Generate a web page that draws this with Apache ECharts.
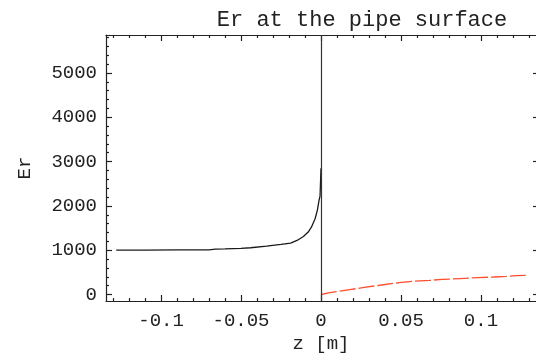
<!DOCTYPE html>
<html>
<head>
<meta charset="utf-8">
<script src="https://cdn.jsdelivr.net/npm/echarts@6/dist/echarts.min.js"></script>
<style>
html,body{margin:0;padding:0;background:#fff;}
#c{width:536px;height:353px;}
</style>
</head>
<body>
<div id="c"></div>
<script>
// ---- data ----
const titleText = 'Er at the pipe surface';
const xName = 'z [m]';
const yName = 'Er';

// black curve: z < 0  [z, Er]
const blackZ  = [-0.128, -0.11, -0.09, -0.07, -0.066, -0.06, -0.05, -0.044, -0.034, -0.025, -0.019, -0.015, -0.011, -0.008, -0.006, -0.0037, -0.0023, -0.0012, -0.0006, 0, 0];
const blackEr = [1000, 1002, 1005, 1008, 1025, 1030, 1040, 1055, 1090, 1130, 1160, 1220, 1310, 1410, 1520, 1710, 1900, 2130, 2220, 2240, 2850];

// red curve: z > 0
const redZ  = [0, 0.0055, 0.018, 0.028, 0.039, 0.049, 0.058, 0.068, 0.076, 0.087, 0.098, 0.108, 0.116, 0.122, 0.128];
const redEr = [0, 40, 110, 165, 220, 270, 300, 320, 340, 360, 380, 395, 410, 425, 430];

// ticks
const zTicks  = [-0.1, -0.05, 0, 0.05, 0.1];
const zMinor  = [-0.13, -0.12, -0.11, -0.09, -0.08, -0.07, -0.06, -0.04, -0.03, -0.02, -0.01,
                 0.01, 0.02, 0.03, 0.04, 0.06, 0.07, 0.08, 0.09, 0.11, 0.12, 0.13];
const erTicks = [0, 1000, 2000, 3000, 4000, 5000];
const erMinor = [200, 400, 600, 800, 1200, 1400, 1600, 1800, 2200, 2400, 2600, 2800,
                 3200, 3400, 3600, 3800, 4200, 4400, 4600, 4800, 5200, 5400, 5600, 5800];

const zMin = -0.1344, zMax = 0.1344;
const erMin = -147, erMax = 5858;

// ---- chart ----
const FONT = 'Liberation Mono';
const axisCol = '#222';
const blackData = blackZ.map((z, i) => [z, blackEr[i]]);
const redData = redZ.map((z, i) => [z, redEr[i]]);

function xAx(pos, major, labels) {
  return {
    type: 'value', position: pos, min: zMin, max: zMax,
    axisLine: { show: major, onZero: false, lineStyle: { color: axisCol, width: 1.2 } },
    axisTick: { show: true, inside: true, length: major ? 6 : 3,
      customValues: major ? zTicks : zMinor, lineStyle: { color: axisCol, width: 1.2 } },
    axisLabel: { show: labels, customValues: zTicks, margin: 10,
      fontFamily: FONT, fontSize: 19, color: '#222',
      formatter: v => String(v) },
    splitLine: { show: false },
    name: labels ? xName : '', nameLocation: 'middle', nameGap: 33,
    nameTextStyle: { fontFamily: FONT, fontSize: 19, color: '#222' }
  };
}
function yAx(pos, major, labels, line, len) {
  return {
    type: 'value', position: pos, min: erMin, max: erMax,
    axisLine: { show: line, onZero: false, lineStyle: { color: axisCol, width: 1.2 } },
    axisTick: { show: true, inside: true, length: len,
      customValues: major ? erTicks : erMinor, lineStyle: { color: axisCol, width: 1.2 } },
    axisLabel: { show: labels, customValues: erTicks, margin: 9,
      fontFamily: FONT, fontSize: 19, color: '#222',
      formatter: v => String(v) },
    splitLine: { show: false },
    name: labels ? yName : '', nameLocation: 'middle', nameGap: 72,
    nameTextStyle: { fontFamily: FONT, fontSize: 19, color: '#222' }
  };
}

const chart = echarts.init(document.getElementById('c'), null, { renderer: 'canvas' });
chart.setOption({
  animation: false,
  backgroundColor: '#fff',
  title: {
    text: titleText, left: 357, top: 4, textAlign: 'center',
    textStyle: { fontFamily: FONT, fontSize: 22, fontWeight: 'normal', color: '#222' }
  },
  grid: { left: 106, top: 35, right: 0, bottom: 52, outerBoundsMode: 'none', containLabel: false },
  xAxis: [xAx('bottom', true, true), xAx('bottom', false, false), xAx('top', true, false), xAx('top', false, false)],
  yAxis: [yAx('left', true, true, true, 6), yAx('left', false, false, false, 3), yAx('right', true, false, false, 3)],
  series: [
    {
      type: 'line', data: blackData, xAxisIndex: 0, yAxisIndex: 0,
      showSymbol: false, lineStyle: { color: '#1a1a1a', width: 1.3 },
      markLine: {
        silent: true, symbol: 'none', label: { show: false },
        lineStyle: { color: '#333', width: 1.2, type: 'solid' },
        data: [{ xAxis: 0 }]
      }
    },
    {
      type: 'line', data: redData, xAxisIndex: 0, yAxisIndex: 0,
      showSymbol: false, lineStyle: { color: '#ff4d2e', width: 1.3, type: [16, 3] }
    }
  ]
});
</script>
</body>
</html>
